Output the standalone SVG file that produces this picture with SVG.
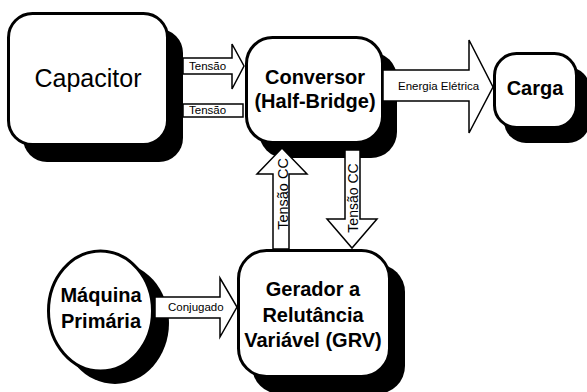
<svg xmlns="http://www.w3.org/2000/svg" width="587" height="392" viewBox="0 0 587 392">
<style>
.box{fill:#fff;stroke:#000;stroke-width:3}
.sh{fill:#000}
.arr{fill:#fff;stroke:#000;stroke-width:1.5;stroke-linejoin:miter}
.big{font-family:"Liberation Sans",Arial,sans-serif;font-weight:bold;font-size:20px;text-anchor:middle;fill:#000}
.lbl{font-family:"Liberation Sans",Arial,sans-serif;font-size:11.5px;fill:#000}
</style>
<rect width="587" height="392" fill="#fff"/>
<g id="capacitor">
<rect class="sh" x="23" y="29" width="160" height="133" rx="24"/>
<rect class="box" x="8.5" y="13.5" width="159" height="131" rx="24"/>
<text x="88" y="87" style="font-family:'Liberation Sans',Arial,sans-serif;font-size:25px;text-anchor:middle">Capacitor</text>
</g>
<g id="conversor">
<rect class="sh" x="259" y="52" width="138" height="106" rx="26"/>
<rect class="box" x="246.5" y="37.5" width="136" height="105" rx="26"/>
<text class="big" x="315" y="84">Conversor</text>
<text class="big" x="315" y="108">(Half-Bridge)</text>
</g>
<g id="carga">
<rect class="sh" x="504" y="67" width="86" height="76" rx="22"/>
<rect class="box" x="494.5" y="53.5" width="82" height="74" rx="22"/>
<text class="big" x="535" y="95">Carga</text>
</g>
<g id="maquina">
<ellipse class="sh" cx="115" cy="323" rx="54" ry="61"/>
<ellipse class="box" cx="100.5" cy="311" rx="52" ry="60"/>
<text class="big" x="101" y="302">Máquina</text>
<text class="big" x="101" y="328">Primária</text>
</g>
<g id="gerador">
<rect class="sh" x="252" y="264" width="153" height="130" rx="28"/>
<rect class="box" x="238.5" y="250.5" width="151" height="126" rx="28"/>
<text class="big" x="313" y="296">Gerador a</text>
<text class="big" x="313" y="322">Relutância</text>
<text class="big" x="313" y="347">Variável (GRV)</text>
</g>
<g id="connectors">
<path class="arr" d="M183,58 H232 V44 L244,66 L232,89 V74 H183 Z"/>
<text class="lbl" x="189" y="70">Tensão</text>
<rect class="arr" x="183" y="104" width="60" height="13"/>
<text class="lbl" x="189" y="114">Tensão</text>
<path class="arr" d="M383,70 H469 V40 L493,87 L469,133 V101 H383 Z"/>
<text class="lbl" x="398" y="90">Energia Elétrica</text>
<path class="arr" d="M273,249 V174 H257 L282,148 L307,174 H289 V249 Z"/>
<text class="lbl" transform="translate(288,194) rotate(-90)" style="font-size:14.5px;text-anchor:middle">Tensão CC</text>
<path class="arr" d="M345,150 H360 V219 H377 L352,248 L327,219 H345 Z"/>
<text class="lbl" transform="translate(358,198) rotate(-90)" style="font-size:14px;text-anchor:middle">Tensão CC</text>
<path class="arr" d="M155,297 H220 V278 L237,307 L220,337 V318 H155 Z"/>
<text class="lbl" x="168" y="311">Conjugado</text>
</g>
</svg>
